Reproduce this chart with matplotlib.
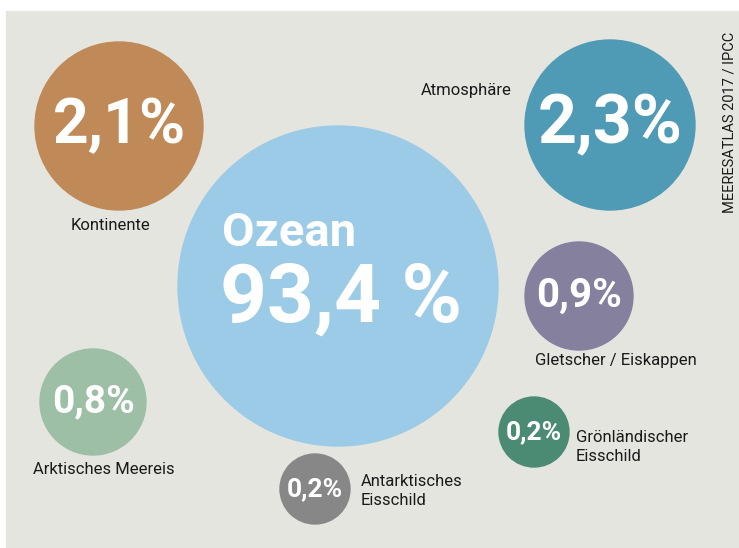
import matplotlib
matplotlib.use('Agg')
import matplotlib.pyplot as plt
from matplotlib.patches import Circle, Rectangle
from matplotlib import font_manager

# Anteile an der Erwärmung seit 1971 (in Prozent)
names = ['Ozean', 'Kontinente', 'Atmosphäre', 'Gletscher / Eiskappen',
         'Arktisches Meereis', 'Grönländischer\nEisschild', 'Antarktisches\nEisschild']
values = [93.4, 2.1, 2.3, 0.9, 0.8, 0.2, 0.2]
value_labels = ['93,4 %', '2,1%', '2,3%', '0,9%', '0,8%', '0,2%', '0,2%']
source = 'MEERESATLAS 2017 / IPCC'

# Layout der Blasen (Mittelpunkt x, y, Radius) in Pixeln
centers = [(338, 286), (119, 126), (610, 125), (579, 296), (93, 402), (534, 432), (315, 489)]
radii = [160, 84, 85, 54, 53, 35, 35]
colors = ['#9ccbe7', '#c08a58', '#4f9bb6', '#85809e', '#9dbfa6', '#4b8b73', '#878787']
pct_sizes = [59, 45, 49, 29, 28, 19, 19]
# Position der schwarzen Beschriftung (x, y, ha)
label_pos = [None, (111, 226, 'center'), (466, 90, 'center'), (616, 360, 'center'),
             (104, 469, 'center'), (576, 447, 'left'), (361, 491, 'left')]

available = {f.name for f in font_manager.fontManager.ttflist}
narrow = 'Liberation Sans Narrow' if 'Liberation Sans Narrow' in available else 'Roboto'

fig = plt.figure(figsize=(7.39, 5.48), dpi=100)
ax = fig.add_axes([0, 0, 1, 1])
ax.set_xlim(0, 739)
ax.set_ylim(548, 0)
ax.axis('off')

ax.add_patch(Rectangle((6, 11), 740, 545, color='#e5e5e0', zorder=0))

for i in range(len(names)):
    cx, cy = centers[i]
    ax.add_patch(Circle((cx, cy), radii[i], color=colors[i], zorder=1))
    if i == 0:
        ax.text(222, 233, 'Ozean', color='white', fontsize=34, fontweight='bold',
                family=narrow, ha='left', va='center', zorder=2)
        ax.text(220, 300, value_labels[i], color='white', fontsize=pct_sizes[i],
                fontweight='bold', family=narrow, ha='left', va='center', zorder=2)
    else:
        ax.text(cx, cy, value_labels[i], color='white', fontsize=pct_sizes[i],
                fontweight='bold', family=narrow, ha='center', va='center', zorder=2)
        lx, ly, ha = label_pos[i]
        ax.text(lx, ly, names[i], color='#1a1a1a', fontsize=12, family=narrow,
                ha=ha, va='center', linespacing=1.4, zorder=2)

ax.text(729, 122, source, rotation=90, color='#1a1a1a', fontsize=10.5, family=narrow,
        ha='center', va='center')

fig.savefig('out.png', dpi=100, facecolor='white')
